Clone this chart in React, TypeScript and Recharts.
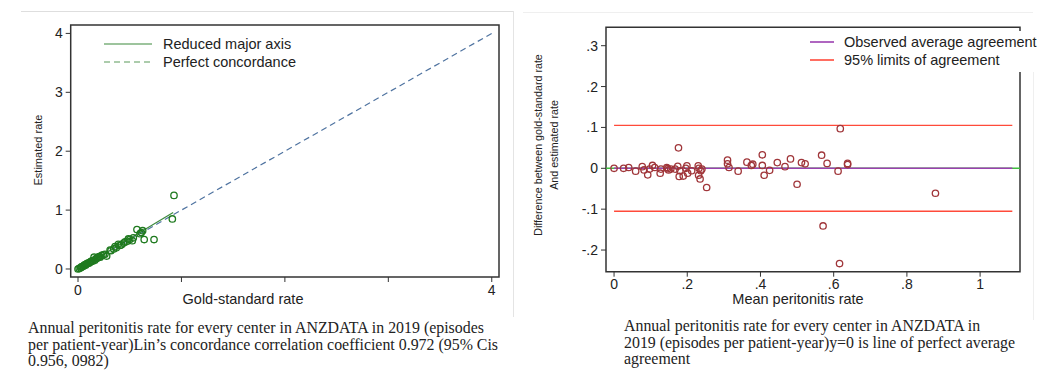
import React from 'react';
import {
  ScatterChart,
  Scatter,
  XAxis,
  YAxis,
  ReferenceLine,
  ReferenceArea,
  Legend,
} from 'recharts';

// left panel: gold-standard vs estimated rate
const goldRate = [0, 0.012, 0.025, 0.033, 0.041, 0.05, 0.058, 0.066, 0.072, 0.08, 0.088, 0.095, 0.104, 0.112, 0.12, 0.128, 0.137, 0.145, 0.155, 0.162, 0.17, 0.18, 0.19, 0.197, 0.205, 0.214, 0.229, 0.245, 0.26, 0.277, 0.31, 0.318, 0.345, 0.358, 0.37, 0.39, 0.405, 0.42, 0.44, 0.455, 0.475, 0.487, 0.5, 0.525, 0.535, 0.57, 0.6, 0.612, 0.625, 0.64, 0.735, 0.912, 0.928];
const estRate = [0, 0.01, 0.02, 0.035, 0.04, 0.045, 0.06, 0.07, 0.065, 0.085, 0.09, 0.1, 0.096, 0.11, 0.12, 0.13, 0.14, 0.135, 0.2, 0.15, 0.17, 0.18, 0.19, 0.2, 0.21, 0.2, 0.23, 0.24, 0.25, 0.22, 0.32, 0.31, 0.34, 0.38, 0.36, 0.42, 0.4, 0.41, 0.44, 0.46, 0.47, 0.51, 0.5, 0.48, 0.53, 0.67, 0.6, 0.62, 0.65, 0.5, 0.5, 0.85, 1.25];
const rmaLine = [{ x: 0, y: -0.01 }, { x: 0.92, y: 0.96 }];
const concordanceLine = [{ x: 0, y: 0 }, { x: 4, y: 4 }];
const leftXTicks = [0, 1, 2, 3, 4];
const leftYTicks = [0, 1, 2, 3, 4];

// right panel: Bland-Altman
const meanRate = [0, 0.026, 0.04, 0.059, 0.077, 0.082, 0.092, 0.097, 0.105, 0.111, 0.126, 0.128, 0.144, 0.146, 0.149, 0.155, 0.167, 0.174, 0.176, 0.178, 0.18, 0.189, 0.196, 0.199, 0.201, 0.212, 0.23, 0.232, 0.231, 0.235, 0.237, 0.24, 0.253, 0.31, 0.31, 0.314, 0.339, 0.363, 0.375, 0.379, 0.405, 0.405, 0.41, 0.425, 0.446, 0.467, 0.482, 0.5, 0.512, 0.522, 0.567, 0.571, 0.582, 0.612, 0.616, 0.618, 0.638, 0.638, 0.878];
const diffRate = [0, 0, 0.002, -0.007, 0.004, -0.004, -0.016, -0.002, 0.007, 0.002, -0.012, -0.002, 0.002, -0.001, -0.004, -0.002, -0.002, 0.005, 0.05, -0.02, -0.006, -0.019, 0, 0.006, -0.012, -0.006, 0.006, 0, -0.017, -0.026, -0.006, -0.002, -0.047, 0.02, 0.011, 0.002, -0.007, 0.015, 0.007, 0.01, 0.033, 0.007, -0.017, -0.005, 0.014, 0.004, 0.023, -0.039, 0.014, 0.011, 0.032, -0.141, 0.012, -0.007, -0.233, 0.097, 0.012, 0.009, -0.061];
const meanDiff = 0;
const upperLimit = 0.105;
const lowerLimit = -0.105;
const limitSpan = [0, 1.088];
const rightXTicks = [0, 0.2, 0.4, 0.6, 0.8, 1];
const rightYTicks = [-0.2, -0.1, 0, 0.1, 0.2, 0.3];

const leftData = goldRate.map((g, i) => ({ x: g, y: estRate[i] }));
const rightData = meanRate.map((m, i) => ({ x: m, y: diffRate[i] }));

const SANS = '"Liberation Sans", Arial, Helvetica, sans-serif';
const SERIF = '"Liberation Serif", "Times New Roman", serif';
const FRAME = '#333333';

const fmtStata = (v: number) => {
  if (v === 0) return '0';
  if (Math.abs(v) >= 1) return String(v);
  const s = String(Math.round(v * 10) / 10);
  return s.replace('0.', '.');
};

const ring = (color: string) => (props: any) => (
  <circle cx={props.cx} cy={props.cy} r={3.2} fill="none" stroke={color} strokeWidth={1.3} />
);

const LeftLegend = () => (
  <div style={{ fontFamily: SANS, fontSize: 14.5, color: '#222', lineHeight: '18px' }}>
    <div style={{ display: 'flex', alignItems: 'center' }}>
      <svg width={52} height={18}>
        <line x1={4} y1={9} x2={52} y2={9} stroke="#3d8a3d" strokeWidth={1.2} />
      </svg>
      <span style={{ marginLeft: 11 }}>Reduced major axis</span>
    </div>
    <div style={{ display: 'flex', alignItems: 'center' }}>
      <svg width={52} height={18}>
        <line x1={4} y1={9} x2={52} y2={9} stroke="#5a9a5a" strokeWidth={1.2} strokeDasharray="6 4" />
      </svg>
      <span style={{ marginLeft: 11 }}>Perfect concordance</span>
    </div>
  </div>
);

const RightLegend = () => (
  <div style={{ fontFamily: SANS, fontSize: 14.5, color: '#222', lineHeight: '18px', background: '#fff', padding: '2px 0 3px 0' }}>
    <div style={{ display: 'flex', alignItems: 'center' }}>
      <svg width={34} height={18}>
        <line x1={10} y1={9} x2={34} y2={9} stroke="#9b3fb0" strokeWidth={1.6} />
      </svg>
      <span style={{ marginLeft: 10, whiteSpace: 'nowrap' }}>Observed average agreement</span>
    </div>
    <div style={{ display: 'flex', alignItems: 'center' }}>
      <svg width={34} height={18}>
        <line x1={10} y1={9} x2={34} y2={9} stroke="#ff4a3a" strokeWidth={1.6} />
      </svg>
      <span style={{ marginLeft: 10 }}>95% limits of agreement</span>
    </div>
  </div>
);

const tickStyle = { fontSize: 14, fill: '#222', fontFamily: SANS };

const ConcordancePlot = () => (
  <ScatterChart width={520} height={320} margin={{ top: 25, right: 21, bottom: 13, left: 30.7 }}>
    <XAxis
      type="number"
      dataKey="x"
      domain={[-0.0706, 4.07]}
      allowDataOverflow
      ticks={leftXTicks}
      tickFormatter={(v: number) => (v === 0 || v === 4 ? String(v) : '')}
      tick={tickStyle}
      tickSize={5}
      tickMargin={3}
      axisLine={false}
      stroke={FRAME}
      height={30}
      label={() => (
        <text x={243} y={304} textAnchor="middle" fontFamily={SANS} fontSize={14.5} fill="#222">
          Gold-standard rate
        </text>
      )}
    />
    <YAxis
      type="number"
      dataKey="y"
      domain={[-0.136, 4.143]}
      allowDataOverflow
      ticks={leftYTicks}
      tick={tickStyle}
      tickSize={5}
      tickMargin={3}
      axisLine={false}
      stroke={FRAME}
      width={40}
      label={() => (
        <text x={42} y={150} transform="rotate(-90 42 150)" textAnchor="middle" fontFamily={SANS} fontSize={11} fill="#222">
          Estimated rate
        </text>
      )}
    />
    <ReferenceArea x1={-0.0706} x2={4.07} y1={-0.136} y2={4.143} fill="none" stroke={FRAME} strokeWidth={1.5} />
    <ReferenceLine segment={concordanceLine} stroke="#4f73a0" strokeWidth={1.2} strokeDasharray="6 4" />
    <ReferenceLine segment={rmaLine} stroke="#3d8a3d" strokeWidth={1.2} />
    <Scatter data={leftData} shape={ring('#1f7a1f')} isAnimationActive={false} />
    <Legend
      layout="vertical"
      align="center"
      verticalAlign="middle"
      content={() => <LeftLegend />}
      wrapperStyle={{ top: 35, left: 100, width: 260 }}
    />
  </ScatterChart>
);

const BlandAltmanPlot = () => (
  <ScatterChart width={518} height={320} margin={{ top: 27.3, right: 18, bottom: 18.3, left: 46 }}>
    <XAxis
      type="number"
      dataKey="x"
      domain={[-0.022, 1.109]}
      allowDataOverflow
      ticks={rightXTicks}
      tickFormatter={fmtStata}
      tick={tickStyle}
      tickSize={5}
      tickMargin={2}
      axisLine={false}
      stroke={FRAME}
      height={30}
      label={() => (
        <text x={278} y={304} textAnchor="middle" fontFamily={SANS} fontSize={14.5} fill="#222">
          Mean peritonitis rate
        </text>
      )}
    />
    <YAxis
      type="number"
      dataKey="y"
      domain={[-0.253, 0.345]}
      allowDataOverflow
      ticks={rightYTicks}
      tickFormatter={fmtStata}
      tick={tickStyle}
      tickSize={5}
      tickMargin={3}
      axisLine={false}
      stroke={FRAME}
      width={40}
      label={() => (
        <text transform="rotate(-90 26 145)" x={26} y={145} textAnchor="middle" fontFamily={SANS} fontSize={10.7} fill="#222">
          <tspan x={26} dy={-4}>Difference between gold-standard rate</tspan>
          <tspan x={26} dy={16}>And estimated rate</tspan>
        </text>
      )}
    />
    <ReferenceArea x1={-0.022} x2={1.109} y1={-0.253} y2={0.345} fill="none" stroke={FRAME} strokeWidth={1.5} />
    <ReferenceLine y={0} stroke="#3fbf3f" strokeWidth={1.4} />
    <ReferenceLine segment={[{ x: limitSpan[0], y: upperLimit }, { x: limitSpan[1], y: upperLimit }]} stroke="#ff4a3a" strokeWidth={1.4} />
    <ReferenceLine segment={[{ x: limitSpan[0], y: lowerLimit }, { x: limitSpan[1], y: lowerLimit }]} stroke="#ff4a3a" strokeWidth={1.4} />
    <ReferenceLine segment={[{ x: limitSpan[0], y: meanDiff }, { x: limitSpan[1], y: meanDiff }]} stroke="#9b3fb0" strokeWidth={1.4} />
    <Scatter data={rightData} shape={ring('#a0363a')} isAnimationActive={false} />
    <Legend
      layout="vertical"
      align="center"
      verticalAlign="middle"
      content={() => <RightLegend />}
      wrapperStyle={{ top: 31, left: 280, width: 238 }}
    />
  </ScatterChart>
);

const captionStyle: React.CSSProperties = {
  position: 'absolute',
  fontFamily: SERIF,
  fontSize: 15.9,
  lineHeight: '16.5px',
  color: '#222',
  whiteSpace: 'nowrap',
};

export default function App() {
  return (
    <div style={{ position: 'absolute', left: 0, top: 0, width: 1038, height: 370, background: '#fff', overflow: 'hidden' }}>
      {/* panel borders */}
      <div style={{ position: 'absolute', left: 21, top: 11, width: 492, height: 1, background: '#dedede' }} />
      <div style={{ position: 'absolute', left: 513, top: 11, width: 1, height: 306, background: '#e4e4e4' }} />
      <div style={{ position: 'absolute', left: 523, top: 12, width: 510, height: 1, background: '#efefef' }} />
      <div style={{ position: 'absolute', left: 1033, top: 70, width: 1, height: 250, background: '#efefef' }} />

      <div style={{ position: 'absolute', left: 0, top: 0 }}>
        <ConcordancePlot />
      </div>
      <div style={{ position: 'absolute', left: 520, top: 0 }}>
        <BlandAltmanPlot />
      </div>

      <div style={{ ...captionStyle, left: 28, top: 320 }}>
        Annual peritonitis rate for every center in ANZDATA in 2019 (episodes
        <br />
        per patient-year)Lin’s concordance correlation coefficient 0.972 (95% Cis
        <br />
        0.956, 0982)
      </div>
      <div style={{ ...captionStyle, left: 624, top: 318 }}>
        Annual peritonitis rate for every center in ANZDATA in
        <br />
        2019 (episodes per patient-year)y=0 is line of perfect average
        <br />
        agreement
      </div>
    </div>
  );
}
